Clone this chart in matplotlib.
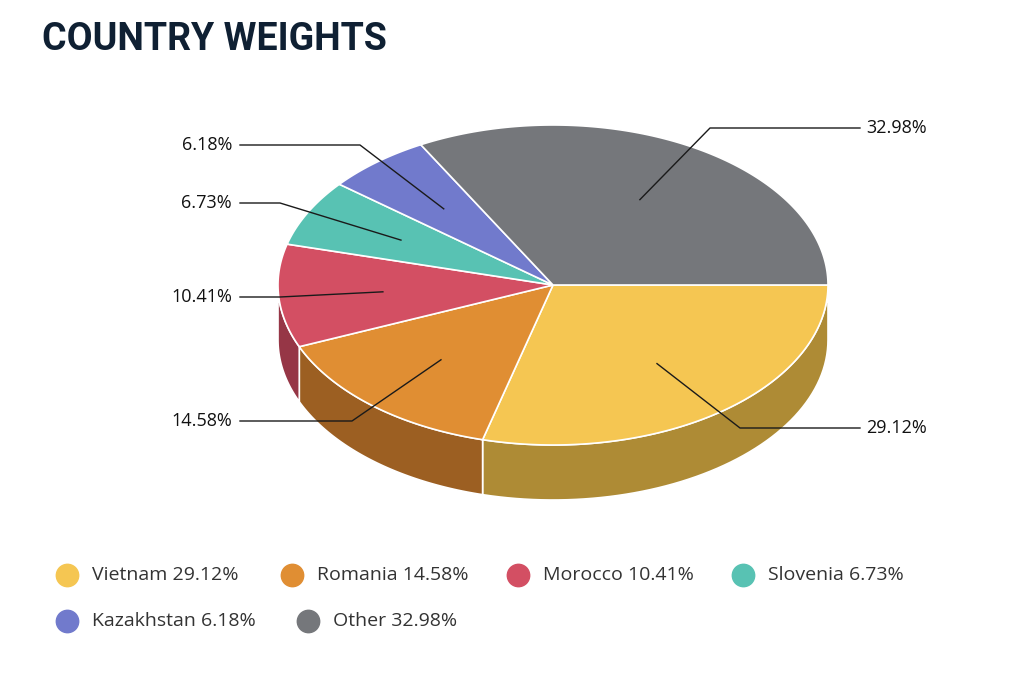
import numpy as np
import matplotlib
matplotlib.use('Agg')
import matplotlib.pyplot as plt
from matplotlib.patches import Polygon

countries = ['Vietnam', 'Romania', 'Morocco', 'Slovenia', 'Kazakhstan', 'Other']
weights = [29.12, 14.58, 10.41, 6.73, 6.18, 32.98]
top_colors = ['#F5C652', '#E08E33', '#D34F63', '#58C2B3', '#717ACC', '#75777B']
side_colors = ['#AE8B35', '#9C5F22', '#963646', '#3E8A80', '#505791', '#535558']

# label layout in pixels: (elbow point, line end, text x, alignment)
label_layout = [
    ((740, 428), (860, 428), 866, 'left'),
    ((352, 421), (240, 421), 232, 'right'),
    ((280, 297), (240, 297), 232, 'right'),
    ((280, 203), (240, 203), 232, 'right'),
    ((360, 145), (240, 145), 232, 'right'),
    ((710, 128), (860, 128), 866, 'left'),
]

W, H = 1018, 684
fig = plt.figure(figsize=(W / 100, H / 100), dpi=100)
ax = fig.add_axes([0, 0, 1, 1])
ax.set_xlim(0, W)
ax.set_ylim(H, 0)
ax.axis('off')

cx, cy, rx, ry, depth = 553, 285, 275, 160, 55

def pt(theta, r=1.0, dy=0):
    return cx + r * rx * np.cos(theta), cy + r * ry * np.sin(theta) + dy

fracs = np.array(weights) / sum(weights)
bounds = np.concatenate([[0], np.cumsum(fracs)]) * 2 * np.pi

# side walls (front half only: 0..pi)
for i in range(len(weights)):
    a0, a1 = bounds[i], min(bounds[i + 1], np.pi)
    if a0 >= np.pi:
        continue
    t = np.linspace(a0, a1, 60)
    top = np.column_stack(pt(t))
    bot = np.column_stack(pt(t[::-1], dy=depth))
    ax.add_patch(Polygon(np.vstack([top, bot]), closed=True, fc=side_colors[i],
                         ec='white', lw=1.2))

# tops
for i in range(len(weights)):
    t = np.linspace(bounds[i], bounds[i + 1], 120)
    poly = np.vstack([[cx, cy], np.column_stack(pt(t))])
    ax.add_patch(Polygon(poly, closed=True, fc=top_colors[i], ec='white', lw=1.2))

# leader lines and labels
for i, w in enumerate(weights):
    mid = (bounds[i] + bounds[i + 1]) / 2
    sx, sy = pt(mid, 0.62)
    (ex, ey), (lx, ly), tx, ha = label_layout[i]
    ax.plot([sx, ex, lx], [sy, ey, ly], color='#1a1a1a', lw=1)
    ax.text(tx, ly, f'{w:.2f}%', ha=ha, va='center', fontsize=13,
            family='Open Sans', color='#111111')

ax.text(42, 40, 'COUNTRY WEIGHTS', fontsize=27, fontweight='bold', family='Roboto',
        color='#0f2033', va='center', ha='left')

# legend
legend_pos = [(67, 575), (292, 575), (518, 575), (743, 575), (67, 621), (308, 621)]
for (lx, ly), name, w, c in zip(legend_pos, countries, weights, top_colors):
    ax.scatter([lx], [ly], s=260, color=c, zorder=3)
    ax.text(lx + 25, ly, f'{name} {w:.2f}%', va='center', ha='left', fontsize=14,
            family='Open Sans', color='#333333')

fig.savefig('out.png', dpi=100)
